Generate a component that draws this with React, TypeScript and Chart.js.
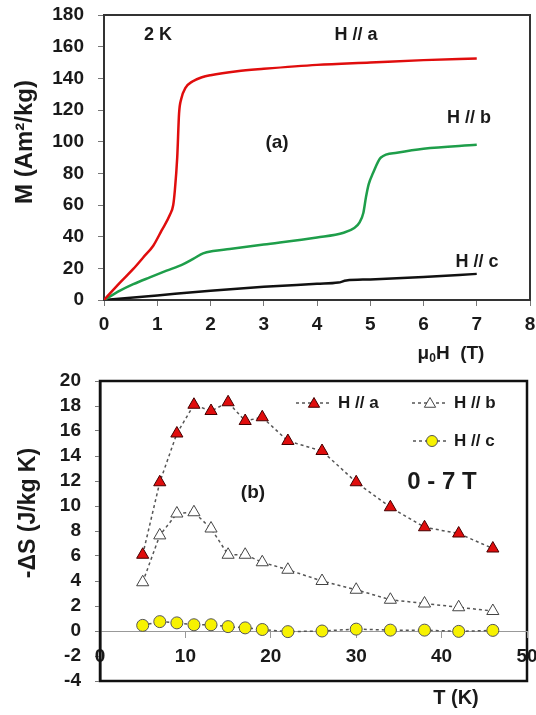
import React, { useEffect, useRef } from 'react';
import { Chart, registerables } from 'chart.js';

Chart.register(...registerables);

// ---------- Panel (a): M vs mu0H at 2 K ----------
const fieldA = [0, 0.3, 0.55, 0.74, 0.925, 1.08, 1.24, 1.3, 1.33, 1.375, 1.41, 1.45, 1.53, 1.66, 1.84, 2.0, 2.5, 3, 4, 5, 6, 7];
const magA = [0, 11, 19.6, 27, 34.3, 43.8, 54, 60, 69, 90, 118, 127, 134, 138, 140.7, 142, 144.5, 146, 148.5, 150, 151.5, 152.5];

const fieldB = [0, 0.3, 0.55, 0.86, 1.175, 1.49, 1.675, 1.86, 2.05, 2.36, 3, 4, 4.5, 4.7, 4.8, 4.87, 4.92, 4.97, 5.05, 5.2, 5.5, 6, 7];
const magB = [0, 5.9, 10, 14.3, 18.5, 22.7, 26, 29.5, 31, 32.2, 35, 39.5, 42.5, 45.5, 49, 55, 65, 73, 80, 90, 93, 95.5, 98];

const fieldC = [0, 1, 2, 3, 4, 4.4, 4.55, 5, 6, 7];
const magC = [0, 2.9, 5.8, 8.3, 10.2, 11, 12.3, 13, 14.5, 16.5];

// ---------- Panel (b): -dS vs T (0 - 7 T) ----------
const temps = [5, 7, 9, 11, 13, 15, 17, 19, 22, 26, 30, 34, 38, 42, 46];
const dsA = [6.1, 11.9, 15.8, 18.1, 17.6, 18.3, 16.8, 17.1, 15.2, 14.4, 11.9, 9.9, 8.3, 7.8, 6.6];
const dsB = [3.9, 7.65, 9.4, 9.5, 8.2, 6.1, 6.1, 5.5, 4.9, 4.0, 3.3, 2.5, 2.2, 1.9, 1.6];
const dsC = [0.45, 0.75, 0.65, 0.5, 0.5, 0.35, 0.25, 0.12, -0.05, 0, 0.15, 0.07, 0.07, -0.03, 0.05];

const seriesLabels = ['H // a', 'H // b', 'H // c'];

const FAMILY = '"Liberation Sans", Arial, sans-serif';
const TXT = '#1a1a1a';

const pts = (xs: number[], ys: number[]) => xs.map((x, i) => ({ x, y: ys[i] }));

function txt(ctx: CanvasRenderingContext2D, s: string, x: number, y: number, size: number, align: CanvasTextAlign = 'center') {
  ctx.save();
  ctx.font = `bold ${size}px ${FAMILY}`;
  ctx.fillStyle = TXT;
  ctx.textAlign = align;
  ctx.textBaseline = 'middle';
  ctx.fillText(s, x, y);
  ctx.restore();
}

function vtxt(ctx: CanvasRenderingContext2D, s: string, x: number, y: number, size: number) {
  ctx.save();
  ctx.translate(x, y);
  ctx.rotate(-Math.PI / 2);
  ctx.font = `bold ${size}px ${FAMILY}`;
  ctx.fillStyle = TXT;
  ctx.textAlign = 'center';
  ctx.textBaseline = 'middle';
  ctx.fillText(s, 0, 0);
  ctx.restore();
}

const TOP_H = 365;
const BOT_H = 715 - TOP_H;

const topPlugin = {
  id: 'topDecor',
  beforeDraw(chart: any) {
    const { ctx, chartArea: a } = chart;
    ctx.save();
    ctx.strokeStyle = '#333';
    ctx.lineWidth = 2;
    ctx.strokeRect(a.left, a.top, a.right - a.left, a.bottom - a.top);
    ctx.restore();
  },
  afterDraw(chart: any) {
    const ctx: CanvasRenderingContext2D = chart.ctx;
    txt(ctx, '2 K', 158, 35, 18);
    txt(ctx, seriesLabels[0], 356, 35, 18);
    txt(ctx, seriesLabels[1], 469, 118, 18);
    txt(ctx, seriesLabels[2], 477, 262, 18);
    txt(ctx, '(a)', 277, 143, 19);
    vtxt(ctx, 'M (Am²/kg)', 25, 142, 24);
    // x title with subscript
    ctx.save();
    ctx.fillStyle = TXT;
    ctx.textBaseline = 'alphabetic';
    const big = `bold 19px ${FAMILY}`;
    const small = `bold 12px ${FAMILY}`;
    ctx.font = big;
    const w1 = ctx.measureText('μ').width;
    const w3 = ctx.measureText('H  (T)').width;
    ctx.font = small;
    const w2 = ctx.measureText('0').width;
    const total = w1 + w2 + w3;
    let x = 451 - total / 2;
    const base = 359;
    ctx.font = big;
    ctx.textAlign = 'left';
    ctx.fillText('μ', x, base);
    x += w1;
    ctx.font = small;
    ctx.fillText('0', x, base + 3);
    x += w2;
    ctx.font = big;
    ctx.fillText('H  (T)', x, base);
    ctx.restore();
  },
};

function drawTri(ctx: CanvasRenderingContext2D, x: number, y: number, r: number, fill: string, stroke: string) {
  ctx.beginPath();
  for (let i = 0; i < 3; i++) {
    const ang = (i * 2 * Math.PI) / 3;
    const px = x + Math.sin(ang) * r;
    const py = y - Math.cos(ang) * r;
    if (i === 0) ctx.moveTo(px, py);
    else ctx.lineTo(px, py);
  }
  ctx.closePath();
  ctx.fillStyle = fill;
  ctx.fill();
  ctx.strokeStyle = stroke;
  ctx.lineWidth = 1;
  ctx.stroke();
}

function drawCirc(ctx: CanvasRenderingContext2D, x: number, y: number, r: number, fill: string, stroke: string) {
  ctx.beginPath();
  ctx.arc(x, y, r, 0, Math.PI * 2);
  ctx.fillStyle = fill;
  ctx.fill();
  ctx.strokeStyle = stroke;
  ctx.lineWidth = 1;
  ctx.stroke();
}

const RED = '#e00d0d';
const YEL = '#f7f200';

const botPlugin = {
  id: 'botDecor',
  beforeDraw(chart: any) {
    const { ctx, chartArea: a } = chart;
    ctx.save();
    ctx.strokeStyle = '#111';
    ctx.lineWidth = 2.5;
    ctx.strokeRect(a.left, a.top, a.right - a.left, a.bottom - a.top);
    ctx.restore();
  },
  afterDraw(chart: any) {
    const ctx: CanvasRenderingContext2D = chart.ctx;
    const off = TOP_H;
    const legendLine = (x1: number, x2: number, y: number) => {
      ctx.save();
      ctx.strokeStyle = '#555';
      ctx.lineWidth = 1.5;
      ctx.setLineDash([3, 3]);
      ctx.beginPath();
      ctx.moveTo(x1, y);
      ctx.lineTo(x2, y);
      ctx.stroke();
      ctx.restore();
    };
    const y1 = 403 - off;
    const y2 = 441 - off;
    legendLine(296, 332, y1);
    drawTri(ctx, 314, y1 + 1, 6.5, RED, '#400');
    txt(ctx, seriesLabels[0], 338, y1, 17, 'left');
    legendLine(412, 448, y1);
    drawTri(ctx, 430, y1 + 1, 6.5, '#fff', '#444');
    txt(ctx, seriesLabels[1], 454, y1, 17, 'left');
    legendLine(413, 448, y2);
    drawCirc(ctx, 432, y2, 5.5, YEL, '#555');
    txt(ctx, seriesLabels[2], 454, y2, 17, 'left');

    txt(ctx, '0 - 7 T', 442, 482 - off, 24);
    txt(ctx, '(b)', 253, 493 - off, 19);
    vtxt(ctx, '-ΔS (J/kg K)', 29, 513 - off, 23);
    txt(ctx, 'T (K)', 456, 698 - off, 20);
  },
};

const tickFont = { family: FAMILY, size: 19, weight: 'bold' as const };

const noPadX = (h?: number) => (s: any) => {
  if (h !== undefined) s.height = h;
  s.paddingLeft = 0;
  s.paddingRight = 0;
};
const noPadY = (w: number) => (s: any) => {
  s.width = w;
  s.paddingTop = 0;
  s.paddingBottom = 0;
};

export default function App() {
  const topRef = useRef<HTMLCanvasElement>(null);
  const botRef = useRef<HTMLCanvasElement>(null);

  useEffect(() => {
    const top = new Chart(topRef.current!, {
      type: 'line',
      data: {
        datasets: [
          { label: seriesLabels[0], data: pts(fieldA, magA), borderColor: RED, borderWidth: 2.5, pointRadius: 0, cubicInterpolationMode: 'monotone' },
          { label: seriesLabels[1], data: pts(fieldB, magB), borderColor: '#1e9e4a', borderWidth: 2.5, pointRadius: 0, cubicInterpolationMode: 'monotone' },
          { label: seriesLabels[2], data: pts(fieldC, magC), borderColor: '#111', borderWidth: 2.5, pointRadius: 0, cubicInterpolationMode: 'monotone' },
        ],
      },
      options: {
        responsive: false,
        animation: false,
        devicePixelRatio: 1,
        layout: { padding: { left: 0, right: 6, top: 15, bottom: 0 } },
        plugins: { legend: { display: false }, tooltip: { enabled: false } },
        scales: {
          x: {
            type: 'linear',
            min: 0,
            max: 8,
            ticks: { stepSize: 1, font: tickFont, color: TXT, padding: 7, maxRotation: 0, autoSkip: false },
            grid: { drawOnChartArea: false, tickLength: 6, color: '#777' },
            border: { display: true, color: '#333', width: 2 },
            afterFit: noPadX(65),
          },
          y: {
            type: 'linear',
            min: 0,
            max: 180,
            ticks: { stepSize: 20, font: tickFont, color: TXT, padding: 14, autoSkip: false },
            grid: { drawOnChartArea: false, tickLength: 6, color: '#777' },
            border: { display: true, color: '#333', width: 2 },
            afterFit: noPadY(104),
          },
        },
      },
      plugins: [topPlugin],
    } as any);

    const bot = new Chart(botRef.current!, {
      type: 'line',
      data: {
        datasets: [
          {
            label: seriesLabels[2], data: pts(temps, dsC),
            borderColor: '#555', borderWidth: 1.5, borderDash: [3, 3],
            pointStyle: 'circle', pointRadius: 6, pointBackgroundColor: YEL, pointBorderColor: '#555', pointBorderWidth: 1,
          },
          {
            label: seriesLabels[1], data: pts(temps, dsB),
            borderColor: '#555', borderWidth: 1.5, borderDash: [3, 3],
            pointStyle: 'triangle', pointRadius: 7, pointBackgroundColor: '#fff', pointBorderColor: '#444', pointBorderWidth: 1,
          },
          {
            label: seriesLabels[0], data: pts(temps, dsA),
            borderColor: '#555', borderWidth: 1.5, borderDash: [3, 3],
            pointStyle: 'triangle', pointRadius: 7, pointBackgroundColor: RED, pointBorderColor: '#400', pointBorderWidth: 1,
          },
        ],
      },
      options: {
        responsive: false,
        animation: false,
        devicePixelRatio: 1,
        layout: { padding: { left: 0, right: 9, top: 16, bottom: 34 } },
        plugins: { legend: { display: false }, tooltip: { enabled: false } },
        scales: {
          x: {
            type: 'linear',
            position: { y: 0 },
            min: 0,
            max: 50,
            ticks: { stepSize: 10, font: tickFont, color: TXT, padding: 8, maxRotation: 0, autoSkip: false },
            grid: { drawOnChartArea: false, tickLength: 6, color: '#999' },
            border: { display: true, color: '#999', width: 1 },
            afterFit: noPadX(),
          },
          y: {
            type: 'linear',
            min: -4,
            max: 20,
            ticks: { stepSize: 2, font: tickFont, color: TXT, padding: 14, autoSkip: false },
            grid: { drawOnChartArea: false, tickLength: 5, color: '#777' },
            border: { display: true, color: '#111', width: 2.5 },
            afterFit: noPadY(100),
          },
        },
      },
      plugins: [botPlugin],
    } as any);

    return () => {
      top.destroy();
      bot.destroy();
    };
  }, []);

  return (
    <div style={{ position: 'fixed', left: 0, top: 0, width: 536, height: 715, background: '#fff' }}>
      <canvas ref={topRef} width={536} height={TOP_H} style={{ position: 'absolute', left: 0, top: 0 }} />
      <canvas ref={botRef} width={536} height={BOT_H} style={{ position: 'absolute', left: 0, top: TOP_H }} />
    </div>
  );
}
